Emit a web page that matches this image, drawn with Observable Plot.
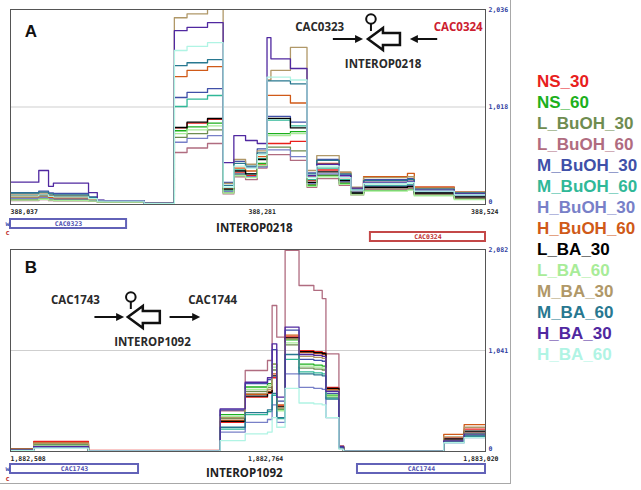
<!DOCTYPE html>
<html><head><meta charset="utf-8">
<script src="https://cdn.jsdelivr.net/npm/d3@7"></script>
<script src="https://cdn.jsdelivr.net/npm/@observablehq/plot@0.6"></script>
<style>
body{margin:0;background:#fff;}
#root{position:relative;width:641px;height:490px;overflow:hidden;font-family:"Liberation Sans",Arial,sans-serif;}
#root > *{position:absolute;}
#frame{left:0;top:0;width:511px;height:484px;border-right:1px solid #a8a8a8;border-bottom:1px solid #a8a8a8;box-sizing:border-box;}
.leg{font:bold 17px "Liberation Sans",Arial,sans-serif;line-height:21px;white-space:nowrap;}
</style></head><body><div id="root"><div id="frame"></div></div>
<script>
const series = ["NS_30","NS_60","L_BuOH_30","L_BuOH_60","M_BuOH_30","M_BuOH_60","H_BuOH_30","H_BuOH_60","L_BA_30","L_BA_60","M_BA_30","M_BA_60","H_BA_30","H_BA_60"];
const colors = ["#e8201c","#1cb01c","#6e8c50","#b06c80","#4050a8","#30b898","#7880c8","#d05a18","#000000","#a8ec98","#b09868","#287890","#5028a0","#b0f4e4"];

// Panel A (INTEROP0218)
const xA = [388037,388066,388076,388081,388117,388126,388133,388174,388205,388218,388239,388255,388266,388278,388290,388300,388304,388324,388341,388351,388374,388386,388399,388444,388451,388492,388524];
const A_NS_30 = [60,70,60,55,45,30,28,8,800,850,890,140,330,300,420,637,637,660,250,360,280,140,250,260,180,130];
const A_NS_60 = [50,60,50,45,40,28,26,8,770,810,850,130,320,290,430,740,740,760,200,300,220,110,150,160,100,60];
const A_L_BuOH_30 = [55,65,55,50,42,30,28,8,700,740,780,125,310,285,400,600,600,560,210,310,230,120,170,175,110,70];
const A_L_BuOH_60 = [40,50,40,38,32,25,22,6,543,590,637,110,290,260,380,520,520,460,180,270,200,100,160,170,110,70];
const A_M_BuOH_30 = [125,140,120,115,80,42,40,12,1117,1170,1210,230,450,390,580,920,920,860,330,470,310,150,260,270,170,120];
const A_M_BuOH_60 = [70,80,70,65,50,32,30,8,1023,1100,1138,150,360,320,480,880,880,820,260,380,260,130,200,210,130,90];
const A_H_BuOH_30 = [65,75,65,60,48,32,30,10,650,690,720,135,320,290,390,570,570,500,220,320,240,130,190,200,130,90];
const A_H_BuOH_60 = [80,90,75,70,55,35,30,10,1336,1400,1440,170,380,350,500,1140,1140,1060,300,430,330,170,292,324,180,130];
const A_L_BA_30 = [95,100,90,85,65,38,36,12,804,860,898,160,350,320,470,900,900,800,230,340,250,120,180,190,120,80];
const A_L_BA_60 = [45,55,45,40,35,25,24,6,740,780,820,120,300,280,410,720,720,740,190,290,210,100,140,150,90,50];
const A_M_BA_30 = [110,120,100,95,70,40,38,12,1950,1990,2060,220,470,420,560,1300,1400,1640,355,511,340,180,280,290,170,130];
const A_M_BA_60 = [120,130,110,100,75,40,38,12,1450,1480,1513,200,430,400,540,1290,1290,1260,320,460,320,160,250,260,160,120];
const A_H_BA_30 = [233,355,190,223,125,45,40,12,1815,1850,1900,438,720,668,637,1743,1521,1420,300,420,300,170,230,240,150,110];
const A_H_BA_60 = [90,100,85,80,60,35,35,10,1608,1650,1690,180,400,380,520,1330,1330,1300,280,400,280,150,220,230,140,100];
const yMaxA = 2036;
const xTicksA = [388037, 388281, 388524];

// Panel B (INTEROP1092)
const xB = [1882508,1882533,1882592,1882734,1882761,1882785,1882790,1882795,1882804,1882819,1882835,1882844,1882848,1882862,1882867,1882975,1882997,1883020];
const B_NS_30 = [30,103,12,300,560,600,760,470,1180,1040,1030,1020,660,55,5,140,230];
const B_NS_60 = [20,70,10,380,665,700,900,430,1150,900,890,880,580,45,4,115,190];
const B_L_BuOH_30 = [22,75,10,340,620,660,840,440,1100,860,850,840,560,45,4,120,200];
const B_L_BuOH_60 = [20,60,10,420,835,938,1505,1178,2072,1711,1660,1576,1007,60,5,120,200];
const B_M_BuOH_30 = [18,55,8,430,700,740,1050,520,1250,950,940,930,600,45,4,100,170];
const B_M_BuOH_60 = [15,45,8,230,380,410,580,340,950,820,810,800,550,38,4,95,150];
const B_H_BuOH_30 = [12,40,6,200,300,330,480,300,800,660,650,640,350,30,3,90,144];
const B_H_BuOH_60 = [25,90,10,320,590,620,800,480,1200,1020,1010,1000,640,50,5,176,278];
const B_L_BA_30 = [22,80,10,310,570,610,780,460,1170,1030,1020,1010,650,50,5,130,210];
const B_L_BA_60 = [18,65,8,360,640,680,870,420,1120,880,870,860,570,40,4,105,175];
const B_M_BA_30 = [25,85,10,350,600,640,900,450,1160,980,970,960,630,50,5,150,250];
const B_M_BA_60 = [15,50,8,250,400,430,600,350,1000,800,790,780,540,40,4,100,160];
const B_H_BA_30 = [15,50,8,440,714,760,1110,560,1282,1000,990,980,620,50,4,110,180];
const B_H_BA_60 = [10,35,5,113,182,200,350,250,650,500,490,480,350,25,3,90,144];
const yMaxB = 2082;
const xTicksB = [1882508, 1882764, 1883020];

// Annotations (data coordinates)
const annA_text = ["CAC0323","CAC0324","INTEROP0218"];
const annA_x = [388354, 388496, 388419];
const annA_y = [1848, 1848, 1462];
const annA_color = ["#2a2a2a","#cc2030","#2a2a2a"];
const symA = {tip: 388404, y: 1723, thin: [[388368, 388399], [388475, 388447]]};
const letterA = {text: "A", x: 388058, y: 1806};

const annB_text = ["CAC1743","CAC1744","INTEROP1092"];
const annB_x = [1882578, 1882726, 1882661];
const annB_y = [1556, 1556, 1123];
const annB_color = ["#2a2a2a","#2a2a2a","#2a2a2a"];
const symB = {tip: 1882635, y: 1381, thin: [[1882599, 1882631], [1882680, 1882713]]};
const letterB = {text: "B", x: 1882530, y: 1896};

// Gene tracks
const genesA_name = ["CAC0323","CAC0324"];
const genesA_start = [387900, 388406];
const genesA_end = [388156, 388700];
const genesA_strand = ["w","c"];
const trackA_label = "INTEROP0218", trackA_labelX = 388287;

const genesB_name = ["CAC1743","CAC1744"];
const genesB_start = [1882300, 1882882];
const genesB_end = [1882646, 1883300];
const genesB_strand = ["w","w"];
const trackB_label = "INTEROP1092", trackB_labelX = 1882760;

const SVGNS = "http://www.w3.org/2000/svg";
function el(tag, attrs) { const e = document.createElementNS(SVGNS, tag); for (const k in attrs) e.setAttribute(k, attrs[k]); return e; }

function symbolMark(sym) {
  return (index, scales) => {
    const g = el("g", {});
    const cy = scales.y(sym.y);
    for (const [a, b] of sym.thin) {
      const p1 = scales.x(a), p2 = scales.x(b);
      const dir = Math.sign(p2 - p1);
      g.appendChild(el("line", {x1: p1, y1: cy, x2: p2 - dir * 6, y2: cy, stroke: "#111", "stroke-width": 2}));
      g.appendChild(el("path", {d: `M${p2},${cy}L${p2 - dir * 8},${cy - 4}L${p2 - dir * 8},${cy + 4}Z`, fill: "#111"}));
    }
    const t = scales.x(sym.tip);
    g.appendChild(el("path", {d: `M${t},${cy}L${t + 15},${cy - 11}L${t + 15},${cy - 6}L${t + 32},${cy - 6}L${t + 32},${cy + 6}L${t + 15},${cy + 6}L${t + 15},${cy + 11}Z`, fill: "white", stroke: "#111", "stroke-width": 2.5}));
    g.appendChild(el("line", {x1: t + 3, y1: cy - 15, x2: t + 3, y2: cy - 8, stroke: "#111", "stroke-width": 2}));
    g.appendChild(el("circle", {cx: t + 3, cy: cy - 20, r: 4.8, fill: "white", stroke: "#111", "stroke-width": 2}));
    return g;
  };
}

function makePanel(xs, vals, yMax, xTicks, annText, annX, annY, annColor, sym, letter, height) {
  const rows = [];
  series.forEach((s, k) => {
    const v = vals[k];
    xs.forEach((x, i) => rows.push({s, x, y: v[Math.min(i, v.length - 1)]}));
  });
  const tickFont = {fontSize: 6.5, fontFamily: "DejaVu Sans Mono", fontWeight: "bold"};
  const fmt = d3.format(",");
  const marks = [
    Plot.ruleY([yMax / 2], {stroke: "#cfcfcf", strokeWidth: 1}),
    Plot.line(rows, {x: "x", y: "y", z: "s", stroke: "s", curve: "step-after", strokeWidth: 1.3, clip: true}),
    Plot.frame({stroke: "#555"}),
    Plot.axisY([yMax / 2, yMax], {anchor: "right", label: null, tickSize: 0, tickPadding: 3, tickFormat: fmt, fill: "#3040a0", ...tickFont}),
    Plot.axisY([0], {anchor: "right", label: null, tickSize: 0, tickPadding: 3, dy: -3, tickFormat: fmt, fill: "#3040a0", ...tickFont}),
    Plot.text(xTicks.slice(0, 2), {x: d => d, frameAnchor: "bottom", lineAnchor: "middle", dy: 7, textAnchor: "start", text: d => fmt(d), fill: "#222", ...tickFont}),
    Plot.text(xTicks.slice(2), {x: d => d, frameAnchor: "bottom", lineAnchor: "middle", dy: 7, dx: 13, textAnchor: "end", text: d => fmt(d), fill: "#222", ...tickFont}),
    Plot.text([letter], {x: "x", y: "y", text: "text", fontSize: 17, fontWeight: "bold", fontFamily: "Liberation Sans", fill: "#111"}),
    symbolMark(sym)
  ];
  annText.forEach((t, i) => {
    marks.push(Plot.text([t], {x: () => annX[i], y: () => annY[i], text: d => d, fontSize: 11.5, fontWeight: "bold", fontFamily: "Open Sans", fill: annColor[i]}));
  });
  return Plot.plot({
    width: 513, height,
    marginTop: 9, marginLeft: 10, marginRight: 28, marginBottom: 12,
    x: {domain: [xs[0], xs[xs.length - 1]], axis: null},
    y: {domain: [0, yMax], axis: null},
    color: {domain: series, range: colors},
    style: {background: "transparent", overflow: "visible"},
    marks
  });
}

function makeTrack(domain, names, starts, ends, strands, label, labelX, height, marginTop, marginBottom, cShift) {
  const genes = names.map((n, i) => ({name: n, start: Math.max(starts[i], domain[0]), end: Math.min(ends[i], domain[1]), strand: strands[i]}));
  const wGenes = genes.filter(g => g.strand === "w"), cGenes = genes.filter(g => g.strand === "c");
  return Plot.plot({
    width: 513, height, marginTop, marginBottom, marginLeft: 10, marginRight: 28,
    x: {domain, axis: null},
    y: {domain: ["w", "c"], axis: null, padding: 0},
    style: {background: "transparent", overflow: "visible"},
    marks: [
      Plot.barX(wGenes, {x1: "start", x2: "end", y: "strand", insetTop: 2, insetBottom: 2, fill: "white", stroke: "#6262b8", strokeWidth: 2}),
      Plot.barX(cGenes, {x1: "start", x2: "end", y: "strand", insetTop: 2, insetBottom: 2, fill: "white", stroke: "#c44848", strokeWidth: 2}),
      Plot.text(wGenes, {x: d => (d.start + d.end) / 2, y: "strand", text: "name", fontSize: 6.5, fontFamily: "DejaVu Sans Mono", fontWeight: "bold", fill: "#5050b0"}),
      Plot.text(cGenes, {x: d => (d.start + d.end) / 2, y: "strand", text: "name", fontSize: 6.5, fontFamily: "DejaVu Sans Mono", fontWeight: "bold", fill: "#c03030"}),
      Plot.text([label], {x: () => labelX, frameAnchor: "middle", dy: -2, text: d => d, fontSize: 11.5, fontWeight: "bold", fontFamily: "Open Sans", fill: "#222"}),
      Plot.text(["w"], {y: d => d, frameAnchor: "left", dx: -5, text: d => d, fontSize: 7, fontWeight: "bold", fontFamily: "DejaVu Sans Mono", fill: "#4050b0"}),
      Plot.text(["c"], {y: d => d, frameAnchor: "left", dx: -5, dy: cShift, text: d => d, fontSize: 7, fontWeight: "bold", fontFamily: "DejaVu Sans Mono", fill: "#c03030"})
    ]
  });
}

const root = document.getElementById("root");
function place(node, left, top) { node.style.position = "absolute"; node.style.left = left + "px"; node.style.top = top + "px"; root.appendChild(node); }

const valsA = [A_NS_30, A_NS_60, A_L_BuOH_30, A_L_BuOH_60, A_M_BuOH_30, A_M_BuOH_60, A_H_BuOH_30, A_H_BuOH_60, A_L_BA_30, A_L_BA_60, A_M_BA_30, A_M_BA_60, A_H_BA_30, A_H_BA_60];
const valsB = [B_NS_30, B_NS_60, B_L_BuOH_30, B_L_BuOH_60, B_M_BuOH_30, B_M_BuOH_60, B_H_BuOH_30, B_H_BuOH_60, B_L_BA_30, B_L_BA_60, B_M_BA_30, B_M_BA_60, B_H_BA_30, B_H_BA_60];

place(makePanel(xA, valsA, yMaxA, xTicksA, annA_text, annA_x, annA_y, annA_color, symA, letterA, 216), 0, 0);
place(makeTrack([xA[0], xA[xA.length - 1]], genesA_name, genesA_start, genesA_end, genesA_strand, trackA_label, trackA_labelX, 30, 3, 1, -4), 0, 214);
place(makePanel(xB, valsB, yMaxB, xTicksB, annB_text, annB_x, annB_y, annB_color, symB, letterB, 223), 0, 240);
place(makeTrack([xB[0], xB[xB.length - 1]], genesB_name, genesB_start, genesB_end, genesB_strand, trackB_label, trackB_labelX, 28, 2, 0, -3), 0, 460);

const leg = document.createElement("div");
series.forEach((s, i) => {
  const d = document.createElement("div");
  d.className = "leg";
  d.textContent = s;
  d.style.color = colors[i];
  leg.appendChild(d);
});
place(leg, 537, 71);
</script></body></html>
